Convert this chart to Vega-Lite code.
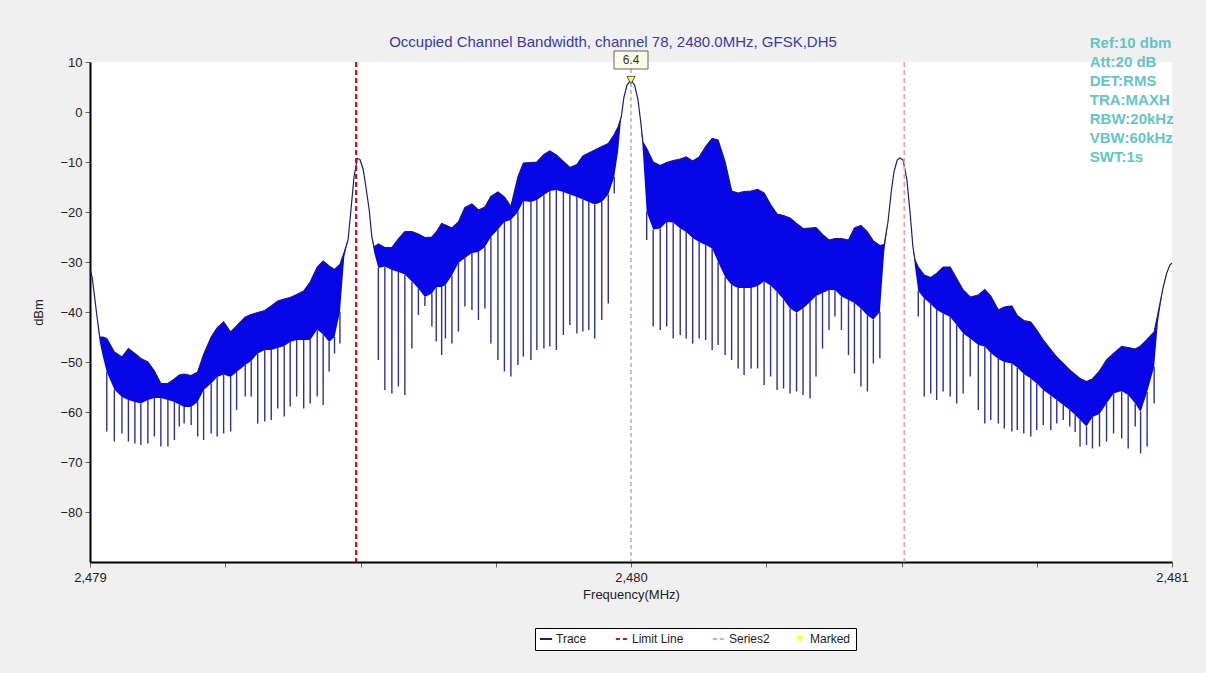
{
  "$schema": "https://vega.github.io/schema/vega-lite/v6.json",
  "width": 1082,
  "height": 500,
  "autosize": {"type": "none"},
  "padding": {"left": 90, "top": 62, "right": 34, "bottom": 111},
  "background": "#f0f0f0",
  "title": {"text": "Occupied Channel Bandwidth, channel 78, 2480.0MHz, GFSK,DH5", "fontSize": 15, "fontWeight": "normal", "font": "Liberation Sans", "color": "#3a3aa8", "anchor": "middle", "frame": "group", "dx": -18, "offset": -14},
  "config": {"view": {"stroke": null, "fill": "white"}, "font": "Liberation Sans"},
  "datasets": {
    "trace": [
      {"f":2479.000,"hi":-31.5,"lo":-31.5},
      {"f":2479.004,"hi":-33,"lo":-33},
      {"f":2479.008,"hi":-36.5,"lo":-36.5},
      {"f":2479.013,"hi":-41,"lo":-41},
      {"f":2479.018,"hi":-45,"lo":-46},
      {"f":2479.024,"hi":-45,"lo":-49},
      {"f":2479.031,"hi":-45.3,"lo":-52,"dip":-63.9},
      {"f":2479.045,"hi":-48,"lo":-55.5,"dip":-65.9},
      {"f":2479.059,"hi":-49,"lo":-57,"dip":-64.3},
      {"f":2479.071,"hi":-47.3,"lo":-57.6,"dip":-65.9},
      {"f":2479.083,"hi":-48.3,"lo":-58,"dip":-66.3},
      {"f":2479.094,"hi":-49.3,"lo":-58.3,"dip":-66.6},
      {"f":2479.107,"hi":-50,"lo":-57.6,"dip":-66.3},
      {"f":2479.119,"hi":-51.8,"lo":-57.2,"dip":-64.9},
      {"f":2479.131,"hi":-54.3,"lo":-57.2,"dip":-66.9},
      {"f":2479.144,"hi":-54.3,"lo":-57.6,"dip":-66.9},
      {"f":2479.156,"hi":-53.4,"lo":-58,"dip":-65.6},
      {"f":2479.165,"hi":-52.6,"lo":-58.5,"dip":-62.9},
      {"f":2479.174,"hi":-52.4,"lo":-59,"dip":-62.3},
      {"f":2479.187,"hi":-52.7,"lo":-59,"dip":-62.6},
      {"f":2479.199,"hi":-52,"lo":-58,"dip":-64.9},
      {"f":2479.210,"hi":-48.5,"lo":-55.6,"dip":-65.6},
      {"f":2479.224,"hi":-45,"lo":-54.3,"dip":-64.3},
      {"f":2479.235,"hi":-43.2,"lo":-53,"dip":-64.9},
      {"f":2479.247,"hi":-42,"lo":-52.5,"dip":-64.3},
      {"f":2479.260,"hi":-44,"lo":-53,"dip":-63.9},
      {"f":2479.271,"hi":-42.8,"lo":-52,"dip":-59.6},
      {"f":2479.287,"hi":-41,"lo":-50.6,"dip":-56.9},
      {"f":2479.298,"hi":-40.5,"lo":-49.8,"dip":-56.9},
      {"f":2479.310,"hi":-40.1,"lo":-48.3,"dip":-62.3},
      {"f":2479.323,"hi":-39.7,"lo":-47.6,"dip":-61.9},
      {"f":2479.335,"hi":-38.8,"lo":-47.6,"dip":-61.6},
      {"f":2479.347,"hi":-37.8,"lo":-47.2,"dip":-59.3},
      {"f":2479.359,"hi":-37.4,"lo":-46.8,"dip":-60.9},
      {"f":2479.370,"hi":-37.1,"lo":-46,"dip":-58.9},
      {"f":2479.382,"hi":-36.5,"lo":-45.6,"dip":-56.9},
      {"f":2479.395,"hi":-35.8,"lo":-45.6,"dip":-59.3},
      {"f":2479.407,"hi":-34,"lo":-45.6,"dip":-58.3},
      {"f":2479.420,"hi":-31,"lo":-43.5,"dip":-56.9},
      {"f":2479.431,"hi":-29.8,"lo":-44.5,"dip":-58.6},
      {"f":2479.442,"hi":-30.8,"lo":-46,"dip":-51.9},
      {"f":2479.452,"hi":-31.5,"lo":-45,"dip":-48.3},
      {"f":2479.462,"hi":-30.5,"lo":-40,"dip":-46.3},
      {"f":2479.470,"hi":-28,"lo":-29},
      {"f":2479.477,"hi":-25.6,"lo":-25.6},
      {"f":2479.482,"hi":-20,"lo":-20},
      {"f":2479.488,"hi":-13,"lo":-13},
      {"f":2479.494,"hi":-9.3,"lo":-9.3},
      {"f":2479.499,"hi":-9.5,"lo":-9.5},
      {"f":2479.505,"hi":-11.5,"lo":-11.5},
      {"f":2479.510,"hi":-15,"lo":-15},
      {"f":2479.516,"hi":-19.5,"lo":-19.5},
      {"f":2479.521,"hi":-25,"lo":-25},
      {"f":2479.525,"hi":-27,"lo":-28},
      {"f":2479.533,"hi":-26.4,"lo":-31.2,"dip":-49.6},
      {"f":2479.545,"hi":-27.1,"lo":-30.9,"dip":-55.6},
      {"f":2479.558,"hi":-27.1,"lo":-31.6,"dip":-56.3},
      {"f":2479.570,"hi":-25.4,"lo":-32,"dip":-54.9},
      {"f":2479.582,"hi":-23.9,"lo":-32.5,"dip":-56.6},
      {"f":2479.595,"hi":-23.9,"lo":-33.9,"dip":-47.3},
      {"f":2479.607,"hi":-24.4,"lo":-35.3,"dip":-40.6},
      {"f":2479.619,"hi":-25.1,"lo":-37,"dip":-38.8},
      {"f":2479.632,"hi":-25,"lo":-36.3,"dip":-42.9},
      {"f":2479.640,"hi":-24,"lo":-35,"dip":-45.9},
      {"f":2479.650,"hi":-22.3,"lo":-35,"dip":-48.6},
      {"f":2479.657,"hi":-22.6,"lo":-34.6,"dip":-45.3},
      {"f":2479.669,"hi":-23.2,"lo":-32.7,"dip":-46.3},
      {"f":2479.681,"hi":-22,"lo":-30.2,"dip":-43.9},
      {"f":2479.693,"hi":-19.1,"lo":-29.2,"dip":-38.9},
      {"f":2479.706,"hi":-18.4,"lo":-28.2,"dip":-39.6},
      {"f":2479.718,"hi":-19.6,"lo":-28,"dip":-41.6},
      {"f":2479.730,"hi":-19,"lo":-27,"dip":-39.3},
      {"f":2479.741,"hi":-16.9,"lo":-25,"dip":-46.3},
      {"f":2479.754,"hi":-16,"lo":-23.5,"dip":-49.6},
      {"f":2479.766,"hi":-17,"lo":-22,"dip":-51.9},
      {"f":2479.778,"hi":-18.9,"lo":-21.6,"dip":-52.9},
      {"f":2479.791,"hi":-13,"lo":-20,"dip":-50.6},
      {"f":2479.801,"hi":-10.2,"lo":-17.8,"dip":-48.9},
      {"f":2479.815,"hi":-10.1,"lo":-18,"dip":-49.6},
      {"f":2479.826,"hi":-10,"lo":-17.6,"dip":-47.6},
      {"f":2479.839,"hi":-8.5,"lo":-16.6,"dip":-47.3},
      {"f":2479.850,"hi":-7.8,"lo":-15.8,"dip":-46.9},
      {"f":2479.862,"hi":-8.6,"lo":-15.6,"dip":-47.6},
      {"f":2479.875,"hi":-9.9,"lo":-16,"dip":-44.6},
      {"f":2479.887,"hi":-11.1,"lo":-16.5,"dip":-42.6},
      {"f":2479.900,"hi":-10.5,"lo":-17,"dip":-44.3},
      {"f":2479.911,"hi":-8.8,"lo":-17.5,"dip":-43.9},
      {"f":2479.922,"hi":-8.2,"lo":-18,"dip":-43.6},
      {"f":2479.933,"hi":-7.6,"lo":-18.5,"dip":-45.3},
      {"f":2479.946,"hi":-6.9,"lo":-18,"dip":-41.6},
      {"f":2479.958,"hi":-6.3,"lo":-16.5,"dip":-38.3},
      {"f":2479.969,"hi":-4.5,"lo":-13,"dip":-16.3},
      {"f":2479.976,"hi":-3,"lo":-8},
      {"f":2479.982,"hi":-1,"lo":-1},
      {"f":2479.987,"hi":3,"lo":3},
      {"f":2479.993,"hi":5.5,"lo":5.5},
      {"f":2480.000,"hi":6.4,"lo":6.4},
      {"f":2480.007,"hi":5.3,"lo":5.3},
      {"f":2480.013,"hi":2.4,"lo":2.4},
      {"f":2480.018,"hi":-2,"lo":-2},
      {"f":2480.022,"hi":-6,"lo":-8},
      {"f":2480.029,"hi":-7.3,"lo":-20,"dip":-25.6},
      {"f":2480.041,"hi":-10,"lo":-23.5,"dip":-42.9},
      {"f":2480.054,"hi":-10.7,"lo":-23.3,"dip":-43.6},
      {"f":2480.066,"hi":-10.1,"lo":-22,"dip":-42.9},
      {"f":2480.078,"hi":-9.7,"lo":-22.1,"dip":-45.3},
      {"f":2480.091,"hi":-9.4,"lo":-23.3,"dip":-44.6},
      {"f":2480.102,"hi":-9,"lo":-24,"dip":-45.3},
      {"f":2480.114,"hi":-9.8,"lo":-25.2,"dip":-46.3},
      {"f":2480.126,"hi":-9,"lo":-26,"dip":-45.3},
      {"f":2480.138,"hi":-6.9,"lo":-26.6,"dip":-45.6},
      {"f":2480.150,"hi":-5.3,"lo":-27.3,"dip":-47.6},
      {"f":2480.161,"hi":-5.6,"lo":-30,"dip":-46.6},
      {"f":2480.174,"hi":-10,"lo":-33,"dip":-48.6},
      {"f":2480.186,"hi":-15.8,"lo":-34.6,"dip":-49.6},
      {"f":2480.198,"hi":-16.2,"lo":-35.2,"dip":-51.3},
      {"f":2480.209,"hi":-15.9,"lo":-35.2,"dip":-52.6},
      {"f":2480.222,"hi":-15.8,"lo":-35.2,"dip":-51.3},
      {"f":2480.234,"hi":-15.5,"lo":-34.8,"dip":-51.3},
      {"f":2480.246,"hi":-16.2,"lo":-33.9,"dip":-54.6},
      {"f":2480.258,"hi":-18.5,"lo":-34.7,"dip":-52.9},
      {"f":2480.270,"hi":-20.4,"lo":-36,"dip":-55.6},
      {"f":2480.282,"hi":-20.7,"lo":-37.5,"dip":-55.3},
      {"f":2480.294,"hi":-21.2,"lo":-39.3,"dip":-56.3},
      {"f":2480.306,"hi":-22.3,"lo":-40.1,"dip":-55.9},
      {"f":2480.318,"hi":-23.3,"lo":-39.3,"dip":-56.6},
      {"f":2480.331,"hi":-23.2,"lo":-38,"dip":-57.3},
      {"f":2480.342,"hi":-23.1,"lo":-36.8,"dip":-52.9},
      {"f":2480.354,"hi":-24.5,"lo":-36.2,"dip":-47.3},
      {"f":2480.366,"hi":-25.6,"lo":-35.6,"dip":-43.6},
      {"f":2480.377,"hi":-25.3,"lo":-35.6,"dip":-40.9},
      {"f":2480.389,"hi":-25.3,"lo":-36.9,"dip":-43.6},
      {"f":2480.402,"hi":-25.6,"lo":-37.6,"dip":-48.6},
      {"f":2480.413,"hi":-23.2,"lo":-38.2,"dip":-52.3},
      {"f":2480.425,"hi":-22.7,"lo":-39.3,"dip":-54.9},
      {"f":2480.437,"hi":-24,"lo":-40.7,"dip":-55.9},
      {"f":2480.448,"hi":-25.8,"lo":-41.5,"dip":-50.3},
      {"f":2480.460,"hi":-26.7,"lo":-40,"dip":-49.3},
      {"f":2480.468,"hi":-26.5,"lo":-28},
      {"f":2480.475,"hi":-22,"lo":-22},
      {"f":2480.481,"hi":-16,"lo":-16},
      {"f":2480.486,"hi":-12,"lo":-12},
      {"f":2480.492,"hi":-9.6,"lo":-9.6},
      {"f":2480.497,"hi":-9.2,"lo":-9.2},
      {"f":2480.503,"hi":-9.6,"lo":-9.6},
      {"f":2480.510,"hi":-13.6,"lo":-13.6},
      {"f":2480.516,"hi":-20.3,"lo":-20.3},
      {"f":2480.521,"hi":-26.9,"lo":-26.9},
      {"f":2480.525,"hi":-29.6,"lo":-31},
      {"f":2480.531,"hi":-31,"lo":-35.8,"dip":-40.9},
      {"f":2480.542,"hi":-32.6,"lo":-37.3,"dip":-56.9},
      {"f":2480.554,"hi":-33.1,"lo":-38.4,"dip":-56.3},
      {"f":2480.565,"hi":-32.3,"lo":-39.6,"dip":-57.6},
      {"f":2480.577,"hi":-31,"lo":-40.3,"dip":-55.9},
      {"f":2480.590,"hi":-31,"lo":-41,"dip":-56.9},
      {"f":2480.602,"hi":-33.3,"lo":-42.6,"dip":-58.3},
      {"f":2480.614,"hi":-35.6,"lo":-44.3,"dip":-56.3},
      {"f":2480.627,"hi":-37,"lo":-45.3,"dip":-52.9},
      {"f":2480.642,"hi":-36.6,"lo":-46.6,"dip":-59.6},
      {"f":2480.654,"hi":-35.5,"lo":-46.9,"dip":-62.3},
      {"f":2480.665,"hi":-36.8,"lo":-48.2,"dip":-61.6},
      {"f":2480.679,"hi":-39.6,"lo":-49.4,"dip":-62.3},
      {"f":2480.690,"hi":-39,"lo":-50,"dip":-63.3},
      {"f":2480.704,"hi":-38.8,"lo":-50.3,"dip":-63.9},
      {"f":2480.714,"hi":-40.7,"lo":-51.1,"dip":-63.6},
      {"f":2480.726,"hi":-41.7,"lo":-52.4,"dip":-64.3},
      {"f":2480.739,"hi":-42,"lo":-53.3,"dip":-64.9},
      {"f":2480.750,"hi":-43.6,"lo":-54.3,"dip":-63.6},
      {"f":2480.762,"hi":-45.6,"lo":-55.6,"dip":-62.6},
      {"f":2480.776,"hi":-47.5,"lo":-56.7,"dip":-63.6},
      {"f":2480.787,"hi":-49,"lo":-57.6,"dip":-62.3},
      {"f":2480.799,"hi":-50.3,"lo":-58.6,"dip":-61.6},
      {"f":2480.811,"hi":-51.6,"lo":-59.6,"dip":-62.9},
      {"f":2480.821,"hi":-52.5,"lo":-60.6,"dip":-64},
      {"f":2480.830,"hi":-53.3,"lo":-61.6,"dip":-66.9},
      {"f":2480.842,"hi":-53.9,"lo":-62.9,"dip":-66.6},
      {"f":2480.853,"hi":-53.4,"lo":-61,"dip":-67.3},
      {"f":2480.866,"hi":-51.8,"lo":-60.4,"dip":-66.9},
      {"f":2480.879,"hi":-49.6,"lo":-58.3,"dip":-65.9},
      {"f":2480.892,"hi":-48.3,"lo":-56.3,"dip":-64.3},
      {"f":2480.907,"hi":-46.9,"lo":-55.8,"dip":-65.3},
      {"f":2480.919,"hi":-47.1,"lo":-56.6,"dip":-67.3},
      {"f":2480.932,"hi":-47.4,"lo":-58.3,"dip":-62.9},
      {"f":2480.942,"hi":-46.8,"lo":-60,"dip":-68.3},
      {"f":2480.954,"hi":-45.5,"lo":-56,"dip":-66.9},
      {"f":2480.967,"hi":-44,"lo":-51,"dip":-58.3},
      {"f":2480.974,"hi":-40.3,"lo":-42},
      {"f":2480.984,"hi":-34.9,"lo":-34.9},
      {"f":2480.990,"hi":-32.3,"lo":-32.3},
      {"f":2480.996,"hi":-30.6,"lo":-30.6},
      {"f":2481.000,"hi":-30.2,"lo":-30.2}
    ]
  },
  "encoding": {
    "x": {
      "field": "f", "type": "quantitative", "title": "Frequency(MHz)",
      "scale": {"domain": [2479, 2481], "nice": false, "zero": false},
      "axis": {
        "values": [2479, 2479.25, 2479.5, 2479.75, 2480, 2480.25, 2480.5, 2480.75, 2481],
        "labelExpr": "datum.value % 1 === 0 ? format(datum.value, ',') : ''",
        "grid": false, "domainColor": "#000000", "domainWidth": 2, "tickColor": "#666666", "tickSize": 5,
        "labelFontSize": 13, "labelColor": "#222222", "labelPadding": 4, "labelFlush": false,
        "titleFontSize": 13, "titleFontWeight": "normal", "titleColor": "#222222", "titlePadding": 4
      }
    }
  },
  "layer": [
    {
      "data": {"values": [{"f": 2480}]},
      "mark": {"type": "rule", "color": "#888888", "strokeDash": [4, 3], "strokeWidth": 1},
      "encoding": {}
    },
    {
      "data": {"values": [{"g": 0}, {"g": -10}, {"g": -20}, {"g": -30}, {"g": -40}, {"g": -50}, {"g": -60}, {"g": -70}, {"g": -80}]},
      "mark": {"type": "rule", "color": "#888888", "strokeDash": [4, 3], "strokeWidth": 1},
      "encoding": {
        "x": {"datum": 2479, "type": "quantitative", "scale": {"domain": [2479, 2481], "nice": false, "zero": false}},
        "x2": {"datum": 2481},
        "y": {
          "field": "g", "type": "quantitative", "title": "dBm",
          "scale": {"domain": [-90, 10], "nice": false, "zero": false},
          "axis": {
            "values": [10, 0, -10, -20, -30, -40, -50, -60, -70, -80],
            "grid": false, "tickSize": 5,
            "domainColor": "#000000", "domainWidth": 2, "tickColor": "#666666",
            "labelFontSize": 13, "labelColor": "#222222", "labelPadding": 3,
            "titleFontSize": 13, "titleFontWeight": "normal", "titleColor": "#222222", "titlePadding": 14
          }
        }
      }
    },
    {
      "data": {"name": "trace"},
      "mark": {"type": "area", "color": "#0606e6", "opacity": 1},
      "encoding": {
        "y": {"field": "hi", "type": "quantitative", "title": "dBm", "scale": {"domain": [-90, 10], "nice": false, "zero": false}},
        "y2": {"field": "lo"}
      }
    },
    {
      "data": {"name": "trace"},
      "transform": [{"filter": "isValid(datum.dip)"}],
      "mark": {"type": "rule", "color": "#2e2e9c", "strokeWidth": 1.4},
      "encoding": {
        "y": {"field": "dip", "type": "quantitative", "title": "dBm", "scale": {"domain": [-90, 10], "nice": false, "zero": false}},
        "y2": {"field": "lo"}
      }
    },
    {
      "data": {"name": "trace"},
      "mark": {"type": "line", "strokeWidth": 1.2},
      "encoding": {
        "y": {"field": "hi", "type": "quantitative", "title": "dBm", "scale": {"domain": [-90, 10], "nice": false, "zero": false}},
        "color": {
          "datum": "Trace",
          "scale": {"domain": ["Trace", "Limit Line", "Series2", "Marked"], "range": ["#1a1a80", "#c0101a", "#f4a0a0", "#ffff33"]},
          "legend": {
            "orient": "none", "legendX": 445, "legendY": 566, "direction": "horizontal", "columns": 4, "title": null,
            "fillColor": "#ffffff", "strokeColor": "#000000", "padding": 5, "labelFontSize": 12, "labelColor": "#222222",
            "columnPadding": 24, "symbolSize": 150, "symbolStrokeWidth": 2,
            "encode": {"symbols": {"update": {
              "shape": {"signal": "datum.value === 'Marked' ? 'triangle-down' : 'stroke'"},
              "fill": {"signal": "datum.value === 'Marked' ? '#ffff33' : 'transparent'"},
              "stroke": {"signal": "datum.value === 'Marked' ? '#555555' : datum.value === 'Trace' ? '#1a1a80' : datum.value === 'Limit Line' ? '#c0101a' : '#f4a0a0'"},
              "strokeDash": {"signal": "datum.value === 'Limit Line' || datum.value === 'Series2' ? [4, 3] : [1, 0]"},
              "strokeWidth": {"signal": "datum.value === 'Marked' ? 1 : 2"},
              "size": {"signal": "datum.value === 'Marked' ? 50 : 150"}
            }}}
          }
        }
      }
    },
    {
      "data": {"values": [{"f": 2479.492}]},
      "mark": {"type": "rule", "strokeDash": [5, 3], "strokeWidth": 2.2},
      "encoding": {
        "color": {"datum": "Limit Line", "scale": {"domain": ["Trace", "Limit Line", "Series2", "Marked"], "range": ["#1a1a80", "#c0101a", "#f4a0a0", "#ffff33"]}}
      }
    },
    {
      "data": {"values": [{"f": 2480.505}]},
      "mark": {"type": "rule", "strokeDash": [5, 3], "strokeWidth": 1.6},
      "encoding": {
        "color": {"datum": "Series2", "scale": {"domain": ["Trace", "Limit Line", "Series2", "Marked"], "range": ["#1a1a80", "#c0101a", "#f4a0a0", "#ffff33"]}}
      }
    },
    {
      "data": {"values": [{"f": 2480, "v": 6.4, "label": "6.4"}]},
      "layer": [
        {
          "mark": {"type": "point", "shape": "triangle-down", "filled": true, "size": 70, "stroke": "#555555", "strokeWidth": 1, "opacity": 1},
          "encoding": {
            "y": {"field": "v", "type": "quantitative", "title": "dBm", "scale": {"domain": [-90, 10], "nice": false, "zero": false}},
            "color": {"datum": "Marked", "scale": {"domain": ["Trace", "Limit Line", "Series2", "Marked"], "range": ["#1a1a80", "#c0101a", "#f4a0a0", "#ffff33"]}}
          }
        },
        {
          "mark": {"type": "point", "shape": "M-1,-0.53L1,-0.53L1,0.53L-1,0.53Z", "filled": true, "fill": "#fbfbe6", "stroke": "#666666", "strokeWidth": 1, "size": 1156, "yOffset": -20, "opacity": 1},
          "encoding": {
            "y": {"field": "v", "type": "quantitative", "title": "dBm", "scale": {"domain": [-90, 10], "nice": false, "zero": false}}
          }
        },
        {
          "mark": {"type": "text", "dy": -20, "fontSize": 12, "color": "#333333", "baseline": "middle", "align": "center"},
          "encoding": {
            "y": {"field": "v", "type": "quantitative", "title": "dBm", "scale": {"domain": [-90, 10], "nice": false, "zero": false}},
            "text": {"field": "label", "type": "nominal"}
          }
        }
      ]
    },
    {
      "data": {"values": [{"f": 2480.848}]},
      "mark": {"type": "text", "align": "left", "baseline": "alphabetic", "fontSize": 15, "fontWeight": "bold", "color": "#62c6c6", "lineHeight": 19},
      "encoding": {
        "y": {"datum": 12.8, "type": "quantitative", "title": "dBm", "scale": {"domain": [-90, 10], "nice": false, "zero": false}},
        "text": {"value": ["Ref:10 dbm", "Att:20 dB", "DET:RMS", "TRA:MAXH", "RBW:20kHz", "VBW:60kHz", "SWT:1s"]}
      }
    }
  ]
}
